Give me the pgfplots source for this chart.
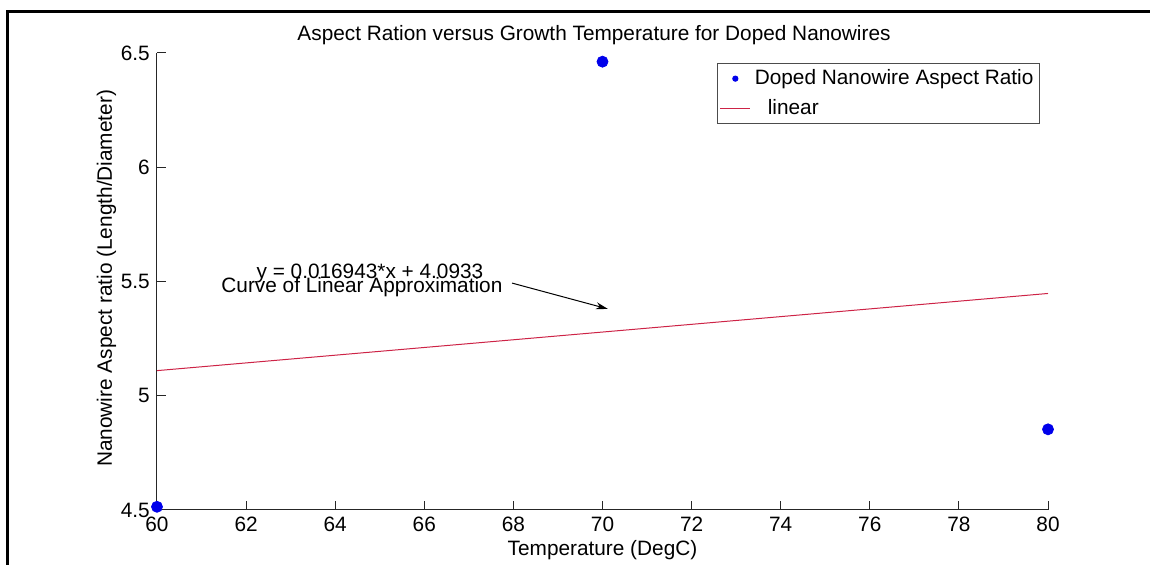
\documentclass[border=0pt]{standalone}
\usepackage{fontspec}
\setmainfont{Liberation Sans}
\usepackage{pgfplots}
\pgfplotsset{compat=1.18}
\usetikzlibrary{arrows.meta}
\definecolor{fitred}{RGB}{205,35,70}
\definecolor{ptblue}{RGB}{0,0,235}
\pgfplotsset{
  dotleg/.style={legend image code/.code={\draw[mark repeat=2,mark phase=2,##1,mark size=1.3pt] plot coordinates {(0pt,0pt)(7.5pt,0pt)(15pt,0pt)};}},
  lineleg/.style={legend image code/.code={\draw[##1] (0pt,0pt) -- (15pt,0pt);}},
}
\begin{document}
\fontsize{10.4}{12.5}\selectfont
\begin{tikzpicture}
\begin{axis}[
  at={(0,0)}, anchor=south west,
  scale only axis, width=445.5pt, height=228.5pt,
  xmin=60, xmax=80, ymin=4.5, ymax=6.5,
  axis x line*=bottom, axis y line*=left,
  axis line style={black!85, line width=0.5pt},
  xtick={60,62,...,80}, ytick={4.5,5,5.5,6,6.5},
  tick align=inside, major tick length=4.5pt,
  tick style={black!85, line width=0.5pt},
  /pgf/number format/assume math mode=true,
  clip=false,
  title={Aspect Ration versus Growth Temperature for Doped Nanowires},
  title style={at={(axis description cs:0.4905,1)}, anchor=base, yshift=0pt, inner sep=0pt},
  xlabel={Temperature (DegC)},
  xlabel style={at={(axis description cs:0.5,0)}, anchor=base, yshift=-23pt, inner sep=0pt},
  ylabel={Nanowire Aspect ratio (Length/Diameter)},
  ylabel style={at={(axis description cs:-0.0505,0.507)}, anchor=base, inner sep=0pt},
  legend style={at={(axis description cs:0.991,0.978)}, anchor=north east,
    draw=black!70, line width=0.5pt, inner xsep=1pt, inner ysep=1pt,
    cells={anchor=west}, row sep=2pt},
]
\addplot[only marks, mark=*, mark size=2.75pt, color=ptblue, dotleg]
  coordinates {(60,4.514) (70,6.462) (80,4.853)};
\addlegendentry{Doped Nanowire Aspect Ratio}
\addplot[color=fitred, line width=0.5pt, lineleg]
  coordinates {(60,5.1099) (80,5.4476)};
\addlegendentry{\hspace{6.5pt}linear}
\node[anchor=base, inner sep=0pt] at (axis cs:64.78,5.515) {y = 0.016943*x + 4.0933};
\node[anchor=base, inner sep=0pt] at (axis cs:64.60,5.450) {Curve of Linear Approximation};
\draw[-{Stealth[length=6pt,width=3.5pt]}, line width=0.5pt] (axis cs:67.97,5.493) -- (axis cs:70.12,5.380);
\end{axis}
\draw[line width=1.5pt] (-74.75pt,-30pt) -- (-74.75pt,249.25pt) -- (500pt,249.25pt);
\pgfresetboundingbox
\path[use as bounding box] (-78.5pt,-27.5pt) rectangle (496.5pt,255pt);
\end{tikzpicture}
\end{document}
